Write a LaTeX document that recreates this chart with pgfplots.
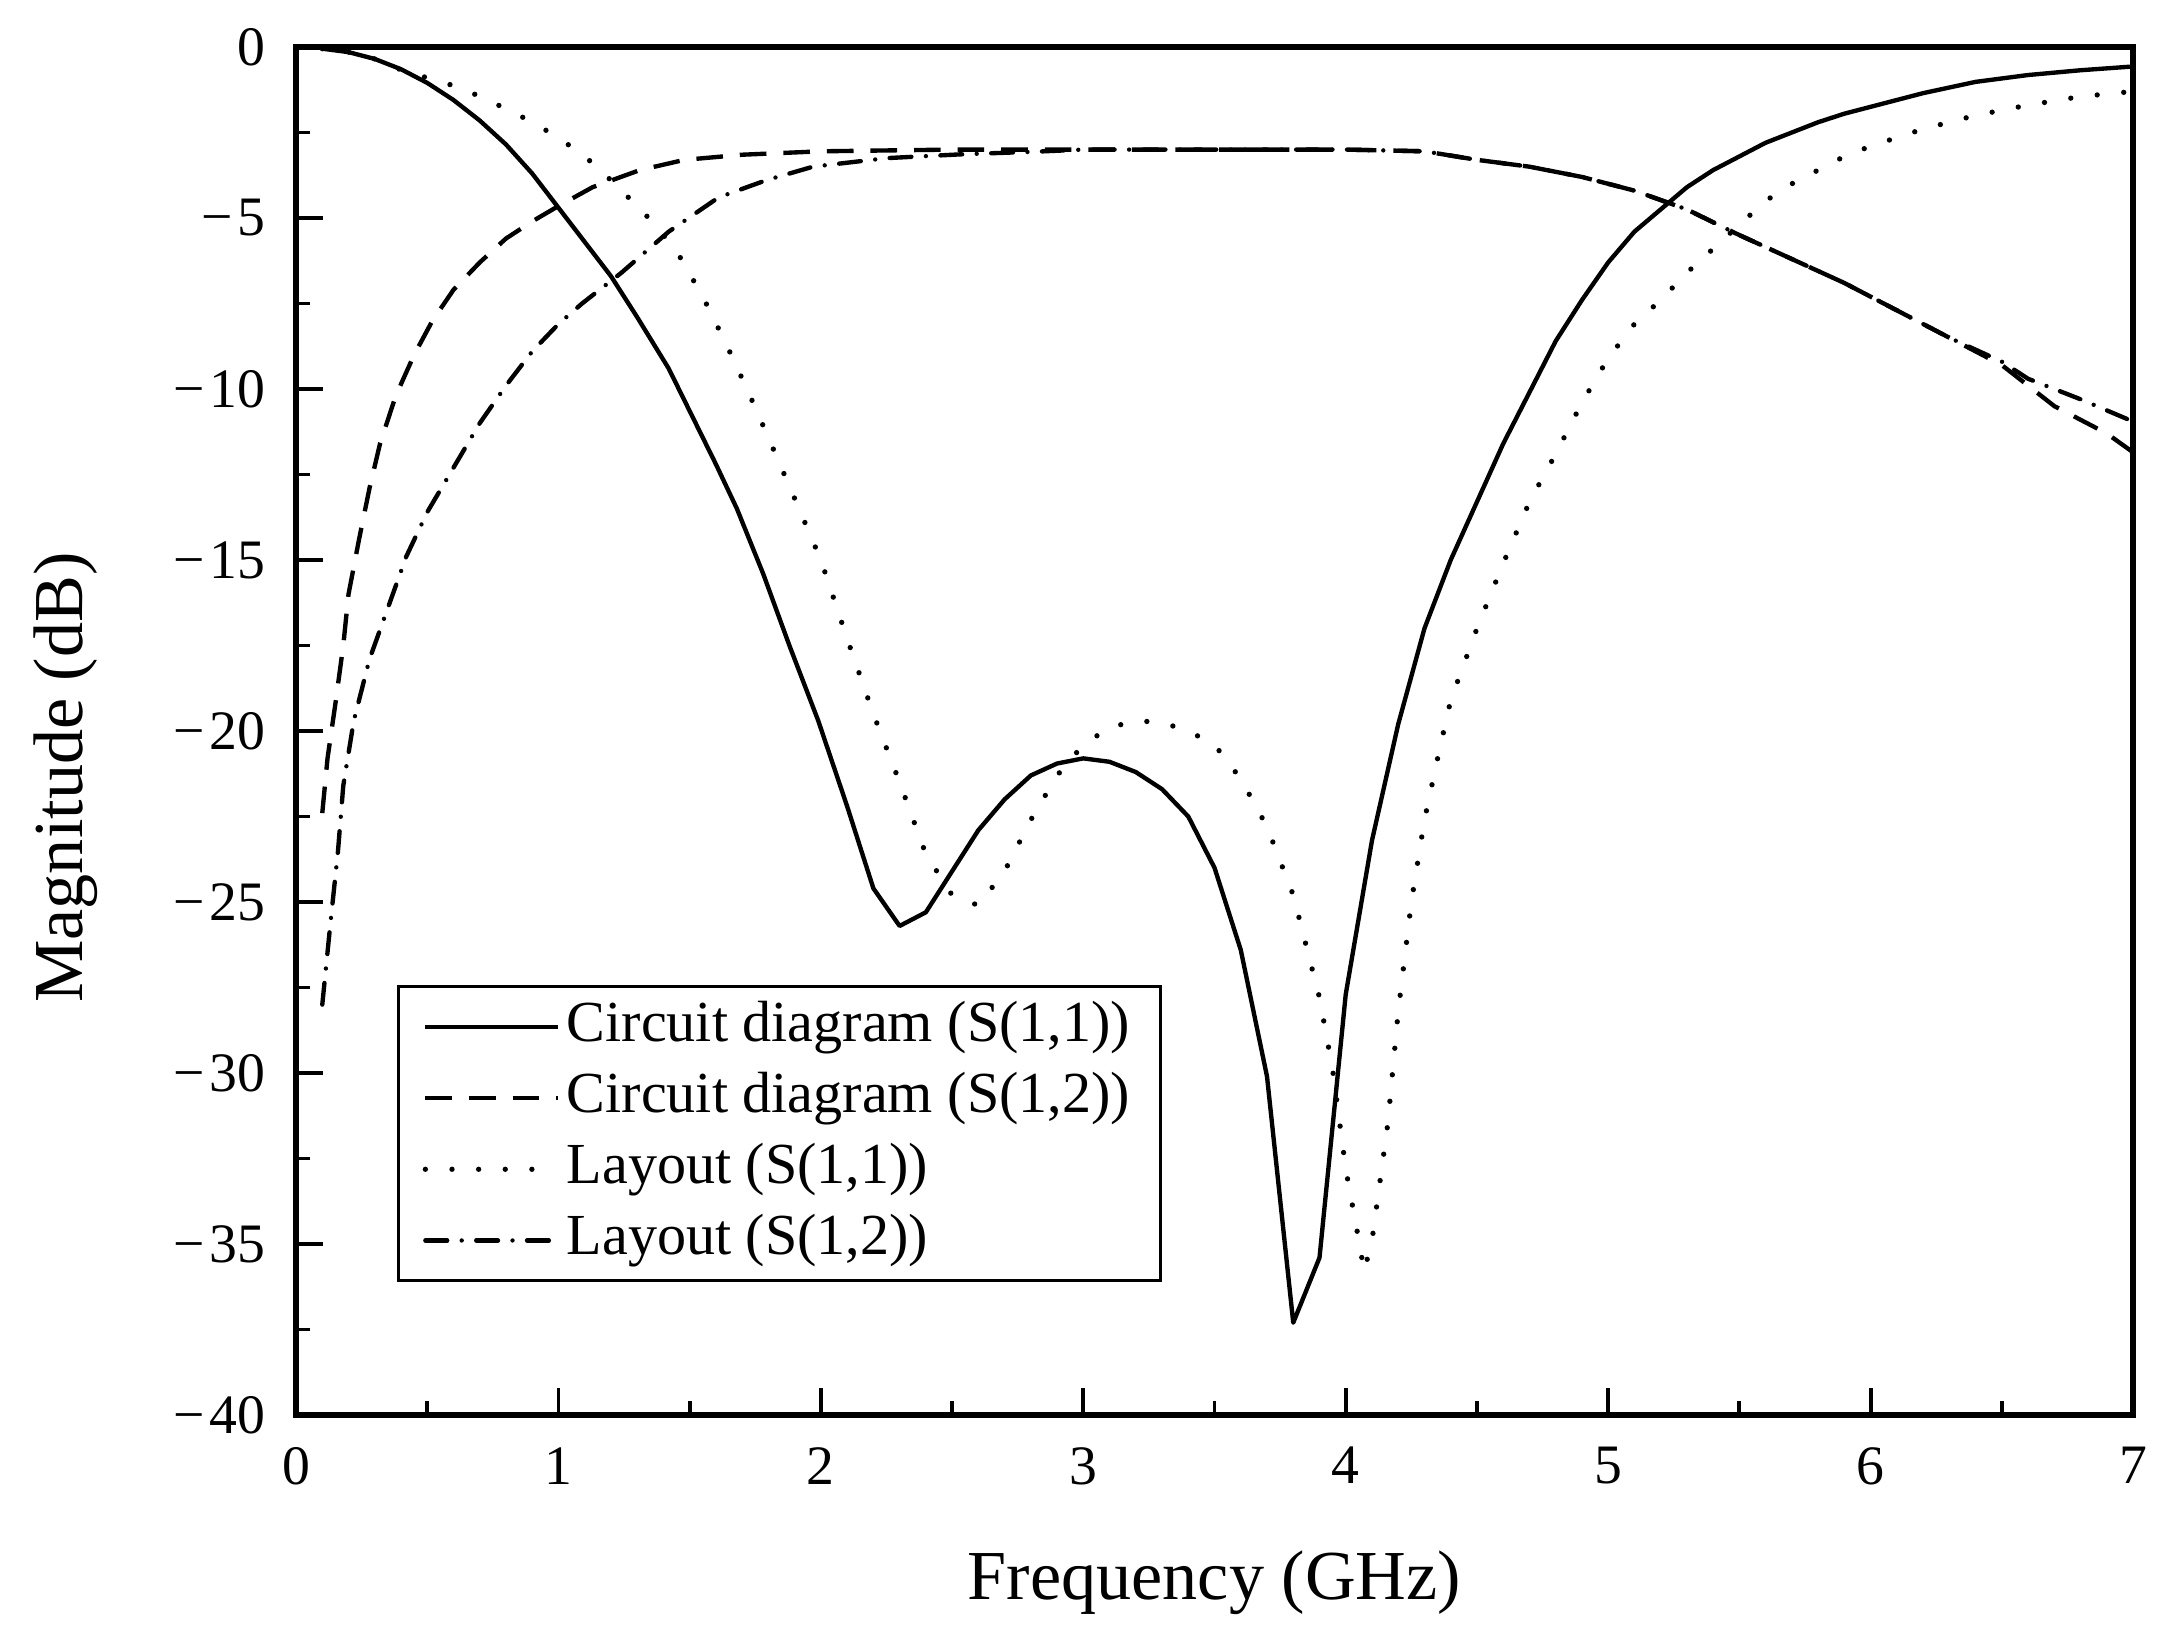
\documentclass[border=0pt]{standalone}
\usepackage{fontspec}
\setmainfont{Liberation Serif}
\usepackage{pgfplots}
\pgfplotsset{compat=1.18}

\begin{document}
\begin{tikzpicture}
\path[use as bounding box] (-2.149cm,-1.583cm) rectangle (13.531cm,10.272cm);
\begin{axis}[
    scale only axis,
    width=13.335cm, height=9.931cm,
    xmin=0, xmax=7, ymin=-40, ymax=0,
    xtick={0,1,...,7},
    ytick={-40,-35,...,0},
    yticklabels={−\kern1pt40,−\kern1pt35,−\kern1pt30,−\kern1pt25,−\kern1pt20,−\kern1pt15,−\kern1pt10,−\kern1pt5,0},
    minor x tick num=1, minor y tick num=1,
    tick pos=left, tick align=inside,
    major tick length=0.196cm, minor tick length=0.1cm,
    every tick/.style={black, line width=0.8pt},
    axis line style={line width=1.1pt},
    /pgf/number format/assume math mode=true,
    ticklabel style={font=\fontsize{11.5}{13}\selectfont},
    xticklabel style={yshift=-1.1mm},
    yticklabel style={xshift=-1mm},
    xlabel={Frequency (GHz)},
    ylabel={Magnitude (dB)},
    label style={font=\fontsize{14.5}{17}\selectfont},
    xlabel style={at={(axis description cs:0.5,-0.0986)}, anchor=north, inner sep=0pt},
    ylabel style={at={(axis description cs:-0.116,0.466)}, anchor=base, inner sep=0pt},
    legend cell align=left,
    legend image code/.code={\draw[#1] (0cm,0cm) -- (0.96cm,0cm);},
    legend style={at={(axis description cs:0.055,0.3143)}, anchor=north west,
        draw=black, line width=0.6pt, font=\fontsize{12}{14}\selectfont,
        inner xsep=5pt, inner ysep=1pt, row sep=0pt,
        nodes={inner sep=1.35pt, text height=9pt, text depth=3pt}},
]
% Circuit diagram S(1,1)
\addplot[black, line width=0.9pt, line join=round] coordinates {
    (0.1,-0.05) (0.2,-0.15) (0.3,-0.35) (0.4,-0.65) (0.5,-1.05) (0.6,-1.55)
    (0.7,-2.15) (0.8,-2.85) (0.9,-3.7) (1.0,-4.7) (1.1,-5.7) (1.2,-6.7)
    (1.3,-7.9) (1.42,-9.4) (1.51,-10.8) (1.6,-12.2) (1.68,-13.5) (1.78,-15.4)
    (1.88,-17.5) (1.99,-19.7) (2.1,-22.2) (2.2,-24.6) (2.3,-25.7) (2.4,-25.3)
    (2.5,-24.1) (2.6,-22.9) (2.7,-22.0) (2.8,-21.3) (2.9,-20.95) (3.0,-20.8)
    (3.1,-20.9) (3.2,-21.2) (3.3,-21.7) (3.4,-22.5) (3.5,-24.0) (3.6,-26.4)
    (3.7,-30.1) (3.8,-37.3) (3.9,-35.4) (4.0,-27.7) (4.1,-23.2) (4.2,-19.8)
    (4.3,-17.0) (4.4,-15.0) (4.5,-13.3) (4.6,-11.6) (4.7,-10.1) (4.8,-8.6)
    (4.9,-7.4) (5.0,-6.3) (5.1,-5.4) (5.2,-4.75) (5.3,-4.1) (5.4,-3.6)
    (5.5,-3.2) (5.6,-2.8) (5.7,-2.5) (5.8,-2.2) (5.9,-1.95) (6.0,-1.75)
    (6.2,-1.35) (6.4,-1.02) (6.6,-0.82) (6.8,-0.68) (7.0,-0.57)
};
\addlegendentry{Circuit diagram (S(1,1))}
% Circuit diagram S(1,2)
\addplot[black, line width=0.9pt, dash pattern=on 5.5pt off 3.5pt] coordinates {
    (0.1,-22.4) (0.12,-20.8) (0.15,-19.2) (0.18,-17.5) (0.2,-16.0) (0.24,-14.4)
    (0.28,-12.9) (0.32,-11.6) (0.38,-10.2) (0.45,-9.0) (0.52,-8.0) (0.6,-7.1)
    (0.7,-6.3) (0.8,-5.6) (0.9,-5.1) (1.0,-4.65) (1.13,-4.1) (1.31,-3.6)
    (1.48,-3.3) (1.7,-3.15) (2.0,-3.05) (2.5,-3.0) (3.0,-3.0) (3.5,-3.0)
    (4.0,-3.0) (4.3,-3.05) (4.5,-3.3) (4.7,-3.5) (4.9,-3.8) (5.1,-4.2)
    (5.3,-4.75) (5.5,-5.5) (5.7,-6.2) (5.9,-6.9) (6.1,-7.7) (6.3,-8.5)
    (6.5,-9.3) (6.7,-10.5) (6.9,-11.3) (7.0,-11.85)
};
\addlegendentry{Circuit diagram (S(1,2))}
% Layout S(1,1)
\addplot[black, line width=1.1pt, line cap=round, dash pattern=on 0pt off 5.5pt] coordinates {
    (0.1,-0.05) (0.2,-0.15) (0.3,-0.35) (0.41,-0.7) (0.5,-0.9) (0.63,-1.2)
    (0.7,-1.45) (0.81,-1.84) (0.9,-2.2) (1.0,-2.65) (1.1,-3.2) (1.16,-3.6)
    (1.24,-4.2) (1.32,-4.8) (1.4,-5.5) (1.46,-6.1) (1.55,-7.3) (1.64,-8.7)
    (1.73,-10.2) (1.81,-11.6) (1.9,-13.2) (2.0,-15.0) (2.1,-17.3) (2.2,-19.5)
    (2.3,-21.5) (2.4,-23.6) (2.5,-24.8) (2.6,-25.1) (2.7,-24.1) (2.8,-22.6)
    (2.9,-21.3) (3.0,-20.4) (3.1,-19.9) (3.2,-19.7) (3.3,-19.75) (3.4,-20.0)
    (3.5,-20.4) (3.6,-21.4) (3.7,-22.8) (3.8,-24.8) (3.9,-27.8) (3.95,-29.9)
    (4.0,-32.8) (4.05,-34.9) (4.07,-35.8) (4.1,-34.9) (4.13,-33.2) (4.16,-31.5)
    (4.2,-28.2) (4.25,-25.0) (4.3,-22.6) (4.35,-20.8) (4.4,-19.1) (4.5,-17.0)
    (4.6,-15.1) (4.7,-13.3) (4.8,-11.9) (4.9,-10.4) (5.0,-9.1) (5.1,-8.1)
    (5.2,-7.4) (5.3,-6.6) (5.4,-5.9) (5.5,-5.2) (5.6,-4.5) (5.7,-4.0)
    (5.8,-3.6) (5.9,-3.2) (6.0,-2.9) (6.2,-2.4) (6.4,-2.0) (6.6,-1.7)
    (6.8,-1.45) (7.0,-1.3)
};
\addlegendentry{Layout (S(1,1))}
% Layout S(1,2)
\addplot[black, line width=0.9pt, line cap=round, dash pattern=on 4.5pt off 3pt on 0pt off 3pt] coordinates {
    (0.1,-28.0) (0.13,-25.7) (0.16,-23.5) (0.18,-21.6) (0.22,-19.7) (0.28,-17.9)
    (0.35,-16.4) (0.42,-14.9) (0.5,-13.6) (0.6,-12.3) (0.7,-11.0) (0.8,-9.9)
    (0.9,-8.9) (1.0,-8.1) (1.09,-7.5) (1.24,-6.6) (1.42,-5.4) (1.61,-4.4)
    (1.79,-3.9) (1.97,-3.5) (2.25,-3.25) (2.53,-3.14) (2.82,-3.06) (3.0,-3.0)
    (3.5,-3.0) (4.0,-3.0) (4.3,-3.05) (4.5,-3.3) (4.7,-3.5) (4.9,-3.8)
    (5.1,-4.2) (5.3,-4.75) (5.5,-5.5) (5.7,-6.2) (5.9,-6.9) (6.1,-7.7)
    (6.3,-8.5) (6.5,-9.2) (6.6,-9.7) (6.8,-10.3) (7.0,-10.95)
};
\addlegendentry{Layout (S(1,2))}
\end{axis}
\end{tikzpicture}
\end{document}
